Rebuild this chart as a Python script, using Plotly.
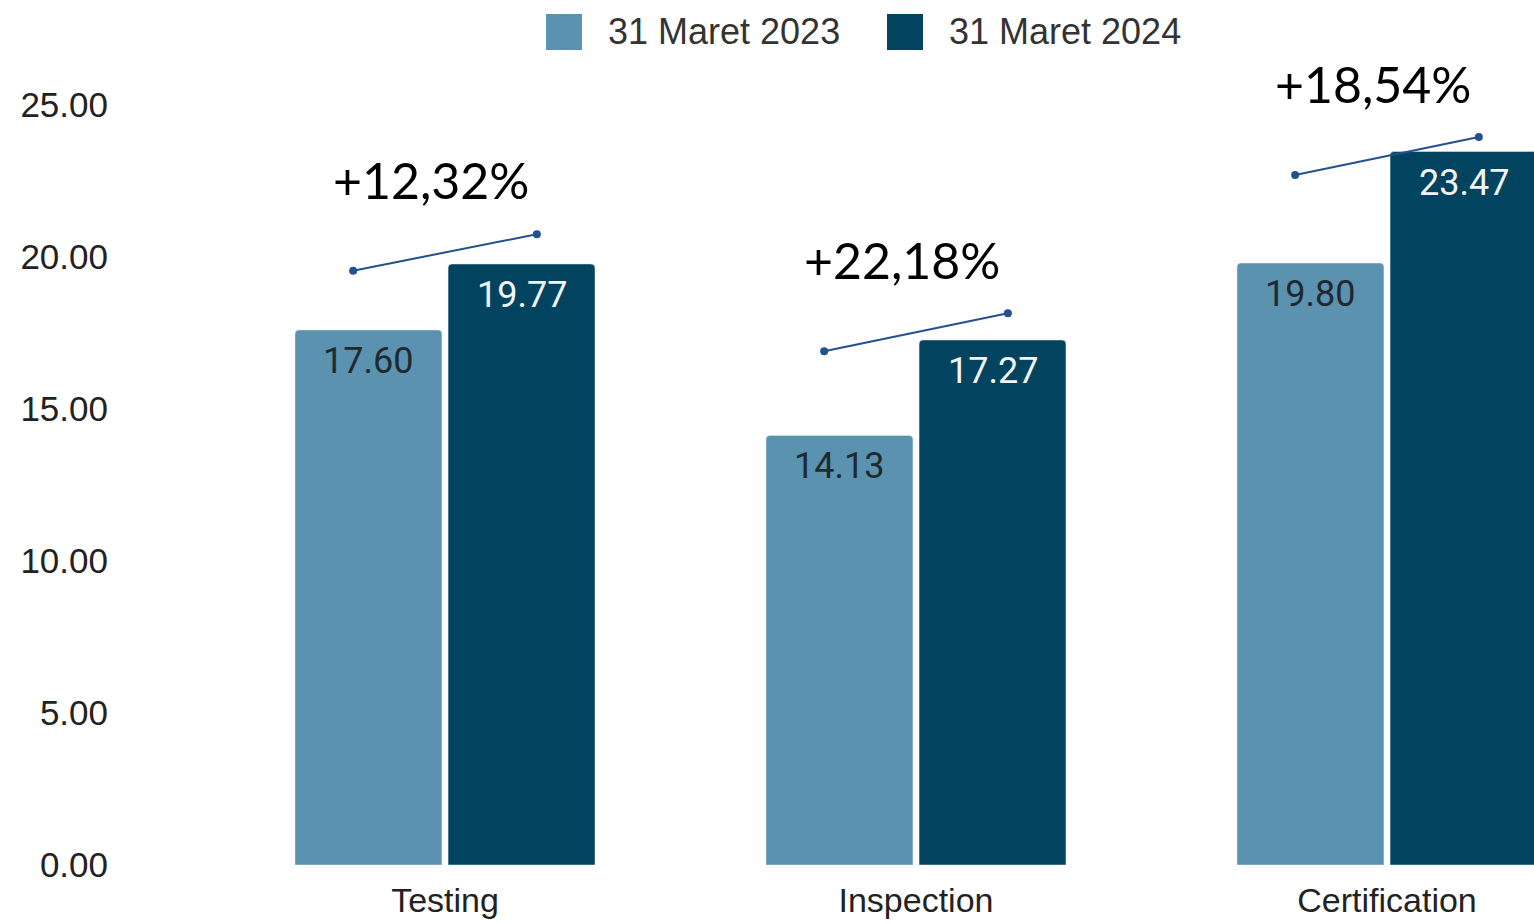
import plotly.graph_objects as go

categories = ['Testing', 'Inspection', 'Certification']
series_names = ['31 Maret 2023', '31 Maret 2024']
values_2023 = [17.60, 14.13, 19.80]
values_2024 = [19.77, 17.27, 23.47]
growth_labels = ['+12,32%', '+22,18%', '+18,54%']
# decorative trend segments above each pair (level at left / right end)
trend_start = [19.55, 16.90, 22.70]
trend_end = [20.75, 18.15, 23.95]
y_ticks = [0, 5, 10, 15, 20, 25]

LIGHT = '#5b92b0'
DARK = '#02445f'
TREND = '#23508f'

W, H = 1534, 924
ML, MB = 125, 59
plot_w, plot_h = W - ML, H - MB

fig = go.Figure()
xs = list(range(len(categories)))
fig.add_bar(x=xs, y=values_2023, name=series_names[0], marker_color=LIGHT, showlegend=False)
fig.add_bar(x=xs, y=values_2024, name=series_names[1], marker_color=DARK, showlegend=False)

half_slot = 0.65 / 4  # offset of each bar centre from category centre
for i in xs:
    fig.add_annotation(x=i - half_slot, y=values_2023[i], text=f'{values_2023[i]:.2f}',
                       showarrow=False, yanchor='middle', yshift=-31,
                       font=dict(family='Roboto', size=36, color='#1f2a30'))
    fig.add_annotation(x=i + half_slot, y=values_2024[i], text=f'{values_2024[i]:.2f}',
                       showarrow=False, yanchor='middle', yshift=-31,
                       font=dict(family='Roboto', size=36, color='#f4f4f4'))
    fig.add_scatter(x=[i - 0.195, i + 0.195], y=[trend_start[i], trend_end[i]], mode='lines+markers',
                    line=dict(color=TREND, width=2), marker=dict(size=8, color=TREND),
                    showlegend=False, hoverinfo='skip')
    fig.add_annotation(x=i - 0.03, y=trend_start[i], text=growth_labels[i], showarrow=False,
                       yanchor='middle', yshift=91,
                       font=dict(family='Lato', size=50, color='#000000'))


# hand drawn legend (big squares like the source)
def px_x(p):
    return (p - ML) / plot_w


def px_y(p):
    return (plot_h - p) / plot_h


for name, color, sq_left in [(series_names[0], LIGHT, 546), (series_names[1], DARK, 887)]:
    fig.add_shape(type='rect', xref='paper', yref='paper',
                  x0=px_x(sq_left), x1=px_x(sq_left + 36), y0=px_y(50), y1=px_y(14),
                  fillcolor=color, line=dict(width=0))
    fig.add_annotation(xref='paper', yref='paper', x=px_x(sq_left + 60), y=px_y(32), text=name,
                       showarrow=False, xanchor='left', yanchor='middle',
                       font=dict(family='Liberation Sans', size=36, color='#333333'))

fig.update_layout(
    width=W, height=H,
    margin=dict(l=ML, r=0, t=0, b=MB),
    paper_bgcolor='white', plot_bgcolor='white',
    barmode='group', bargap=0.35, bargroupgap=0.04, barcornerradius=4,
    showlegend=False,
    xaxis=dict(range=[(ML - 445) / 471, (W - 445) / 471], tickvals=xs, ticktext=categories,
               showgrid=False, zeroline=False, showline=False, ticks='', ticklabelstandoff=12,
               tickfont=dict(family='Liberation Sans', size=34, color='#222222')),
    yaxis=dict(range=[0, plot_h / 30.4], tickvals=y_ticks, ticktext=[f'{v:.2f}' for v in y_ticks],
               showgrid=False, zeroline=False, showline=False, ticks='', ticklabelstandoff=16,
               tickfont=dict(family='Liberation Sans', size=35, color='#222222')),
)

fig.write_html('out.html', config={'displayModeBar': False},
               post_script="document.body.style.margin='0';")
